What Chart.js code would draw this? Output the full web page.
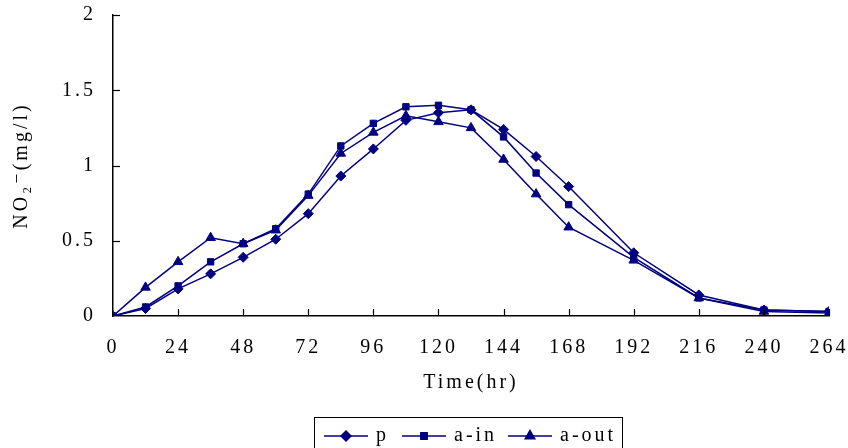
<!DOCTYPE html>
<html>
<head>
<meta charset="utf-8">
<script src="https://cdn.jsdelivr.net/npm/chart.js@4/dist/chart.umd.min.js"></script>
<style>
  html, body { margin: 0; padding: 0; background: #fff; }
  #wrap { width: 848px; height: 448px; }
</style>
</head>
<body>
<div id="wrap"><canvas id="mychart" width="848" height="448"></canvas></div>
<script>
// sampling times (hr)
var times = [0, 12, 24, 36, 48, 60, 72, 84, 96, 108, 120, 132, 144, 156, 168, 192, 216, 240, 264];
// NO2- concentration (mg/l)
var pVals    = [0, 0.05, 0.18, 0.28, 0.39, 0.51, 0.68, 0.93, 1.11, 1.30, 1.35, 1.37, 1.24, 1.06, 0.86, 0.42, 0.14, 0.04, 0.03];
var aInVals  = [0, 0.06, 0.20, 0.36, 0.48, 0.58, 0.81, 1.13, 1.28, 1.39, 1.40, 1.37, 1.19, 0.95, 0.74, 0.39, 0.12, 0.04, 0.03];
var aOutVals = [0, 0.19, 0.36, 0.52, 0.48, 0.57, 0.80, 1.08, 1.22, 1.33, 1.29, 1.25, 1.04, 0.81, 0.59, 0.37, 0.12, 0.03, 0.02];
var xTicks = [0, 24, 48, 72, 96, 120, 144, 168, 192, 216, 240, 264];
var yTicks = [0, 0.5, 1, 1.5, 2];
var seriesNames = ['p', 'a-in', 'a-out'];

var navy = '#000080';
var serif = "'Liberation Serif', 'DejaVu Serif', serif";

function toPoints(vals) {
    var out = [];
    for (var i = 0; i < times.length; i++) {
        out.push({ x: times[i], y: vals[i] });
    }
    return out;
}

function makeSet(label, vals, style, r) {
    return {
        label: label,
        data: toPoints(vals),
        borderColor: navy,
        backgroundColor: navy,
        borderWidth: 1.5,
        pointStyle: style,
        pointRadius: r,
        pointBorderWidth: 1,
        pointBorderColor: navy,
        pointBackgroundColor: navy,
        tension: 0
    };
}

// the original text is set with wide letter spacing
var spacing = {
    id: 'spacing',
    beforeLayout: function (chart) { chart.ctx.letterSpacing = '3px'; },
    beforeDraw: function (chart) { chart.ctx.letterSpacing = '3px'; }
};

// inward tick marks on both axes
var innerTicks = {
    id: 'innerTicks',
    afterDraw: function (chart) {
        var ctx = chart.ctx;
        var xs = chart.scales.x, ys = chart.scales.y;
        var area = chart.chartArea;
        ctx.save();
        ctx.strokeStyle = '#000';
        ctx.lineWidth = 1.2;
        xTicks.forEach(function (t) {
            if (t === 0) return;
            var px = Math.round(xs.getPixelForValue(t)) + 0.5;
            ctx.beginPath();
            ctx.moveTo(px, area.bottom);
            ctx.lineTo(px, area.bottom - 7);
            ctx.stroke();
        });
        yTicks.forEach(function (t) {
            if (t === 0) return;
            var py = Math.round(ys.getPixelForValue(t)) + 0.5;
            ctx.beginPath();
            ctx.moveTo(area.left, py);
            ctx.lineTo(area.left + 7, py);
            ctx.stroke();
        });
        ctx.restore();
    }
};

// boxed legend with line + marker samples
var boxLegend = {
    id: 'boxLegend',
    afterDraw: function (chart) {
        var ctx = chart.ctx;
        ctx.save();
        ctx.strokeStyle = '#000';
        ctx.lineWidth = 1;
        ctx.strokeRect(314.5, 417.5, 308, 40);
        ctx.font = '20px ' + serif;
        ctx.textBaseline = 'middle';
        ctx.fillStyle = '#000';
        var y = 436;
        var starts = [324, 402, 508];
        chart.data.datasets.forEach(function (ds, i) {
            var x0 = starts[i];
            ctx.strokeStyle = navy;
            ctx.lineWidth = 1.5;
            ctx.beginPath();
            ctx.moveTo(x0, y);
            ctx.lineTo(x0 + 44, y);
            ctx.stroke();
            Chart.helpers.drawPoint(ctx, {
                pointStyle: ds.pointStyle,
                radius: ds.pointRadius,
                borderWidth: 1,
                rotation: 0
            }, x0 + 22, y);
            ctx.fillStyle = navy;
            ctx.fill();
            ctx.fillStyle = '#000';
            ctx.fillText(ds.label, x0 + 52, y);
        });
        ctx.restore();
    }
};

const ctr = document.getElementById('mychart');

new Chart(ctr, {
    type: 'line',
    data: {
        datasets: [
            makeSet(seriesNames[0], pVals, 'rectRot', 5),
            makeSet(seriesNames[1], aInVals, 'rect', 4.5),
            makeSet(seriesNames[2], aOutVals, 'triangle', 5.5)
        ]
    },
    options: {
        responsive: false,
        animation: false,
        layout: {
            padding: { left: 0, right: 19, top: 15, bottom: 53 }
        },
        plugins: {
            legend: { display: false },
            tooltip: { enabled: false }
        },
        scales: {
            x: {
                type: 'linear',
                min: 0,
                max: 264,
                afterBuildTicks: function (scale) {
                    scale.ticks = xTicks.map(function (v) { return { value: v }; });
                },
                afterFit: function (scale) {
                    scale.height = 79;
                    scale.paddingLeft = 0;
                    scale.paddingRight = 0;
                },
                grid: { display: false, drawTicks: false },
                border: { display: true, color: '#000', width: 1.5 },
                ticks: {
                    padding: 20,
                    color: '#000',
                    maxRotation: 0,
                    font: { family: serif, size: 20 }
                },
                title: {
                    display: true,
                    text: 'Time(hr)',
                    color: '#000',
                    padding: { top: 0, bottom: 0 },
                    font: { family: serif, size: 20 }
                }
            },
            y: {
                min: 0,
                max: 2,
                afterBuildTicks: function (scale) {
                    scale.ticks = yTicks.map(function (v) { return { value: v }; });
                },
                afterFit: function (scale) {
                    scale.width = 113;
                    scale.paddingTop = 0;
                    scale.paddingBottom = 0;
                },
                grid: { display: false, drawTicks: false },
                border: { display: true, color: '#000', width: 1.5 },
                ticks: {
                    padding: 17,
                    color: '#000',
                    font: { family: serif, size: 20 },
                    callback: function (v) { return String(v); }
                },
                title: {
                    display: true,
                    text: 'NO₂⁻(mg/l)',
                    color: '#000',
                    padding: { top: 10, bottom: 0 },
                    font: { family: serif, size: 20 }
                }
            }
        }
    },
    plugins: [spacing, innerTicks, boxLegend]
});
</script>
</body>
</html>
